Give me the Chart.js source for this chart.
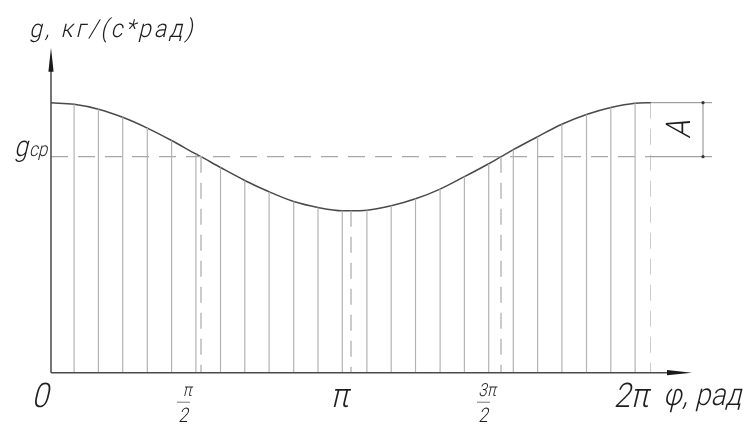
<!DOCTYPE html>
<html>
<head>
<meta charset="utf-8">
<script src="https://cdn.jsdelivr.net/npm/chart.js@4.4.1/dist/chart.umd.min.js"></script>
<style>
  html, body { margin: 0; padding: 0; background: #fff; }
  #wrap { width: 746px; height: 426px; }
</style>
</head>
<body>
<div id="wrap"><canvas id="c" width="746" height="426"></canvas></div>
<script>
// Flow rate g over one revolution, phase φ given in units of π
const tickPhi = [0, 0.5, 1, 1.5, 2];
const tickLabels = ['0', 'π/2', 'π', '3π/2', '2π'];

// Characteristic points of the curve: start, mean crossings, minimum, end
const keyPhi = [0, 0.5, 1, 1.5, 2];
const keyG = [5.00, 4.00, 3.00, 4.00, 5.00];

// Hatching ordinates
const hatchPhi = [0.077, 0.158, 0.239, 0.321, 0.402, 0.483, 0.565, 0.646, 0.727, 0.809, 0.890, 0.971,
                  1.053, 1.134, 1.215, 1.297, 1.378, 1.459, 1.541, 1.622, 1.703, 1.785, 1.866, 1.947];
const hatchG = [4.97, 4.88, 4.73, 4.53, 4.30, 4.05, 3.80, 3.56, 3.35, 3.17, 3.06, 3.00,
                3.01, 3.09, 3.22, 3.40, 3.63, 3.87, 4.13, 4.37, 4.60, 4.78, 4.91, 4.99];

const gMean = 4;      // g_ср
const amplitude = 1;  // A

const yTitle = 'g, кг/(с*рад)';
const xTitle = 'φ, рад';

// curve points: key points and hatch ordinates merged in order of φ
const curve = keyPhi.map((p, i) => ({ x: p, y: keyG[i] }))
  .concat(hatchPhi.map((p, i) => ({ x: p, y: hatchG[i] })))
  .sort((a, b) => a.x - b.x);

// vertical segments from the axis to the curve, separated by gaps
function segments(xs, ys, topFirst) {
  const out = [];
  xs.forEach((p, i) => {
    if (topFirst) out.push({ x: p, y: ys[i] }, { x: p, y: 0 });
    else out.push({ x: p, y: 0 }, { x: p, y: ys[i] });
    out.push({ x: p, y: null });
  });
  return out;
}

// slanted, narrow lettering in the style of drafting type
const FONT = 'Roboto, "DejaVu Sans", sans-serif';
function txt(ctx, s, x, y, size, align, sx, spacing) {
  ctx.save();
  ctx.translate(x, y);
  ctx.transform(sx, 0, -0.24, 1, 0, 0);
  ctx.font = '300 ' + size + 'px ' + FONT;
  ctx.letterSpacing = (spacing || 0) + 'px';
  ctx.textAlign = align;
  ctx.textBaseline = 'alphabetic';
  ctx.fillText(s, 0, 0);
  ctx.restore();
}

function arrow(ctx, tx, ty, dx, dy, len, half) {
  const nx = -dy, ny = dx;
  ctx.beginPath();
  ctx.moveTo(tx, ty);
  ctx.lineTo(tx - dx * len + nx * half, ty - dy * len + ny * half);
  ctx.lineTo(tx - dx * len - nx * half, ty - dy * len - ny * half);
  ctx.closePath();
  ctx.fill();
}

const drawing = {
  id: 'drawing',
  afterDatasetsDraw(chart) {
    const { ctx, scales: { x, y } } = chart;
    const x0 = x.getPixelForValue(0);
    const y0 = y.getPixelForValue(0);
    const xEnd = x.getPixelForValue(2);
    const yTop = y.getPixelForValue(gMean + amplitude);
    const yMid = y.getPixelForValue(gMean);
    ctx.save();

    // axes with arrows
    ctx.strokeStyle = '#4a4a4a';
    ctx.fillStyle = '#1a1a1a';
    ctx.lineWidth = 1.5;
    const xTip = xEnd + 41;
    const yTip = y.getPixelForValue(6) - 1;
    ctx.beginPath();
    ctx.moveTo(x0, y0); ctx.lineTo(xTip - 20, y0);
    ctx.moveTo(x0, y0); ctx.lineTo(x0, yTip + 20);
    ctx.stroke();
    arrow(ctx, xTip, y0, 1, 0, 25, 2.6);
    arrow(ctx, x0, yTip, 0, -1, 24, 2.6);

    // dimension of the amplitude
    ctx.strokeStyle = '#8a8a8a';
    ctx.lineWidth = 1;
    const dimX = xEnd + 52;
    ctx.beginPath();
    ctx.moveTo(xEnd, yTop); ctx.lineTo(xEnd + 61, yTop);
    ctx.moveTo(xEnd, yMid); ctx.lineTo(xEnd + 61, yMid);
    ctx.moveTo(dimX, yTop); ctx.lineTo(dimX, yMid);
    ctx.stroke();
    ctx.fillStyle = '#333';
    [yTop, yMid].forEach(v => { ctx.beginPath(); ctx.arc(dimX, v, 1.6, 0, Math.PI * 2); ctx.fill(); });

    // texts
    ctx.fillStyle = '#1e1e1e';
    ctx.save();
    ctx.translate(xEnd + 27, (yTop + yMid) / 2);
    ctx.rotate(-Math.PI / 2);
    txt(ctx, 'A', 0, 12, 34, 'center', 0.85);
    ctx.restore();

    txt(ctx, yTitle, 29, 37, 25, 'left', 0.92, 3.2);
    txt(ctx, 'g', 14, yMid - 1, 29, 'left', 0.85);
    txt(ctx, 'ср', 29, yMid - 1, 20, 'left', 0.85);

    tickPhi.forEach((p, i) => {
      const px = x.getPixelForValue(p);
      const lab = tickLabels[i];
      if (lab.includes('/')) {
        const [num, den] = lab.split('/');
        const cx = px - 17;
        txt(ctx, num, cx + 3, y0 + 23, 18, 'center', 0.85);
        ctx.strokeStyle = '#777';
        ctx.lineWidth = 1;
        ctx.beginPath();
        ctx.moveTo(cx - 7, y0 + 29.5); ctx.lineTo(cx + 6, y0 + 29.5);
        ctx.stroke();
        txt(ctx, den, cx - 1, y0 + 49, 20, 'center', 0.85);
      } else {
        txt(ctx, lab, px - 3, y0 + 34, 34, 'right', 0.88);
      }
    });
    txt(ctx, xTitle, xEnd + 12, y0 + 32, 31, 'left', 0.88, 0.5);
    ctx.restore();
  }
};

new Chart(document.getElementById('c'), {
  type: 'line',
  data: {
    datasets: [
      {
        data: segments(hatchPhi, hatchG, false),
        borderColor: '#b3b3b3', borderWidth: 1.2, pointRadius: 0, spanGaps: false, tension: 0
      },
      {
        data: segments(keyPhi.slice(1), keyG.slice(1), true),
        borderColor: '#a8a8a8', borderWidth: 1.2, borderDash: [16, 10], pointRadius: 0, spanGaps: false, tension: 0
      },
      {
        data: [{ x: 0, y: gMean }, { x: 2, y: gMean }],
        borderColor: '#a8a8a8', borderWidth: 1.2, borderDash: [17, 10], pointRadius: 0, tension: 0
      },
      {
        data: curve,
        borderColor: '#4a4a4a', borderWidth: 1.5, pointRadius: 0, cubicInterpolationMode: 'monotone'
      }
    ]
  },
  options: {
    responsive: false,
    animation: false,
    devicePixelRatio: 1,
    layout: { padding: { left: 51, right: 95, top: 48.7, bottom: 53.3 } },
    plugins: { legend: { display: false }, tooltip: { enabled: false } },
    scales: {
      x: { type: 'linear', min: 0, max: 2, display: false },
      y: { min: 0, max: 6, display: false }
    }
  },
  plugins: [drawing]
});
</script>
</body>
</html>
